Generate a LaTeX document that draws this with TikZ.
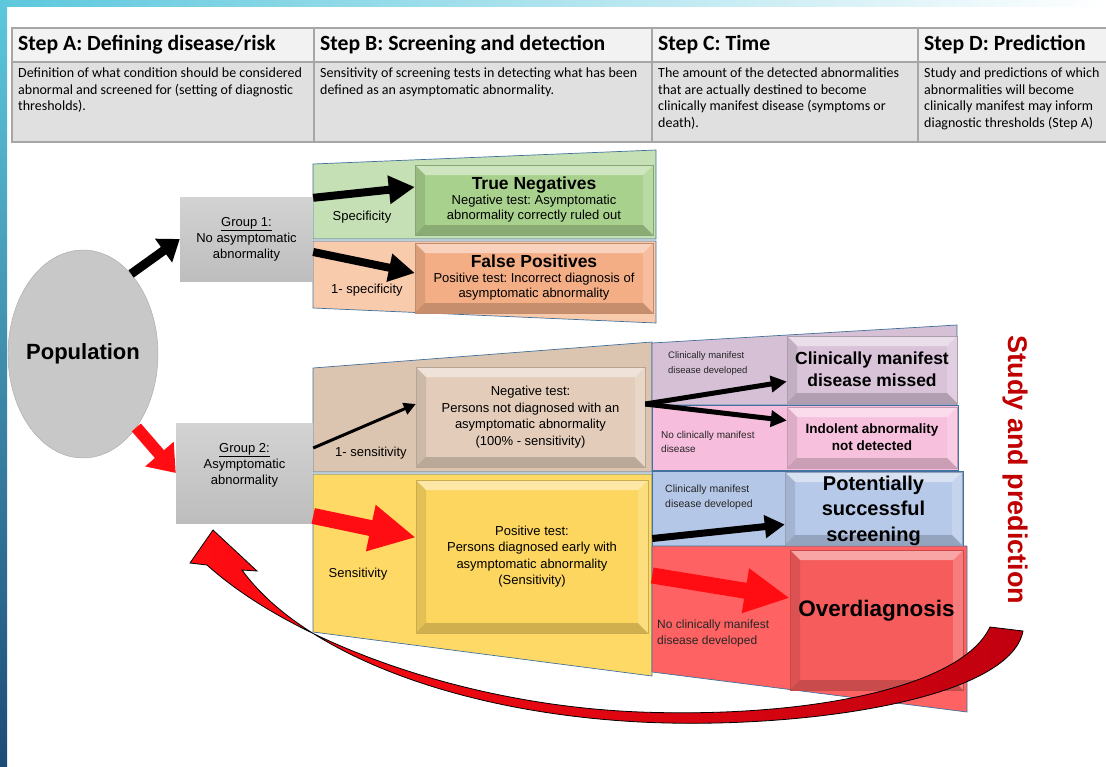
\documentclass[tikz,border=0pt]{standalone}
\usepackage{fontspec}
\setmainfont{Liberation Sans}
\newfontfamily\calib{Carlito}
\usetikzlibrary{shapes.geometric,arrows.meta}
\frenchspacing

\newcommand\fsz[2]{\fontsize{#1}{#2}\selectfont}

\definecolor{hdrfill}{HTML}{F2F2F2}
\definecolor{bodyfill}{HTML}{E0E0E0}
\definecolor{hdrline}{HTML}{A6A6A6}
\definecolor{panelline}{HTML}{41719C}
\definecolor{tnpanel}{HTML}{C5E0B4}
\definecolor{tnbox}{HTML}{A9D18E}
\definecolor{fppanel}{HTML}{F8CBAD}
\definecolor{fpbox}{HTML}{F4AE86}
\definecolor{negpanel}{HTML}{DCC5B0}
\definecolor{negbox}{HTML}{E3CDBA}
\definecolor{pospanel}{HTML}{FFD966}
\definecolor{posbox}{HTML}{FDD660}
\definecolor{misspanel}{HTML}{D6C0D6}
\definecolor{missbox}{HTML}{D9C3D9}
\definecolor{indopanel}{HTML}{F7BDDC}
\definecolor{indobox}{HTML}{F7C1DE}
\definecolor{succpanel}{HTML}{B4C7E7}
\definecolor{succbox}{HTML}{B7C9E8}
\definecolor{overpanel}{HTML}{FF6262}
\definecolor{overbox}{HTML}{F65C5C}
\definecolor{arrred}{HTML}{FF0D12}
\definecolor{arrdark}{HTML}{C0000F}
\definecolor{studyred}{HTML}{C00000}
\definecolor{grptop}{HTML}{D3D3D3}
\definecolor{grpbot}{HTML}{BDBDBD}
\definecolor{popgrey}{HTML}{C8C8C8}
\definecolor{bandtop}{HTML}{5DC8DD}
\definecolor{bandbot}{HTML}{1D4B78}

\tikzset{
  bev/.style={fill=#1, draw=#1!80!black, line width=.4pt, inner sep=0pt, align=center,
    path picture={
      \path (path picture bounding box.north west) coordinate (bnw)
            (path picture bounding box.north east) coordinate (bne)
            (path picture bounding box.south west) coordinate (bsw)
            (path picture bounding box.south east) coordinate (bse);
      \fill[white,opacity=.45] (bnw) -- (bne) -- ([shift={(-10,10)}]bne) -- ([shift={(10,10)}]bnw) -- cycle;
      \fill[black,opacity=.10] (bnw) -- ([shift={(10,10)}]bnw) -- ([shift={(10,-10)}]bsw) -- (bsw) -- cycle;
      \fill[black,opacity=.18] (bsw) -- ([shift={(10,-10)}]bsw) -- ([shift={(-10,-10)}]bse) -- (bse) -- cycle;
      \fill[white,opacity=.20] (bne) -- (bse) -- ([shift={(-10,-10)}]bse) -- ([shift={(-10,10)}]bne) -- cycle;
    }},
  grptxt/.style={inner sep=0pt, align=center, font=\fsz{13}{16}},
  grp/.style={grptxt, top color=grptop, bottom color=grpbot},
  panel/.style={draw=panelline, line width=.7pt},
  lbl/.style={inner sep=0pt, font=\fsz{13}{15}},
  tiny/.style={inner sep=0pt, align=left, anchor=west, text=black!85},
  hcell/.style={fill=hdrfill, draw=hdrline, line width=1.2pt},
  bcell/.style={fill=bodyfill, draw=hdrline, line width=1.2pt},
  htitle/.style={inner sep=0pt, anchor=west, font=\calib\bfseries\fsz{21.7}{24}},
  htxt/.style={inner sep=0pt, anchor=north west, align=left, font=\calib\fsz{14}{16.5}},
  bigb/.style={line width=8pt, -{Triangle[length=26pt,width=27pt]}},
  midb/.style={line width=5pt, -{Triangle[length=16pt,width=16pt]}},
  thinb/.style={line width=3pt, -{Triangle[length=12pt,width=12pt]}},
  bigr/.style={arrred, line width=16pt, -{Triangle[length=46pt,width=44pt]}},
}

\begin{document}
\begin{tikzpicture}[x=1pt,y=-1pt]
\useasboundingbox (0,0) rectangle (1106,766);
\shade[left color=bandtop,right color=white] (0,0) rectangle (1106,6);
\shade[top color=bandtop,bottom color=bandbot] (0,0) rectangle (7,766);

\foreach \xa/\xb in {12/314,314/652,652/918,918/1112}{
  \draw[hcell] (\xa,28) rectangle (\xb,62);
  \draw[bcell] (\xa,62) rectangle (\xb,142);
}
\node[htitle] (ha) at (18,45) {Step A: Defining disease/risk};
\node[htitle] (hb) at (320,45) {Step B: Screening and detection};
\node[htitle] (hc) at (658,45) {Step C: Time};
\node[htitle] (hd) at (924,45) {Step D: Prediction};
\node[htxt] (ta) at (18,68) {Definition of what condition should be considered\\abnormal and screened for (setting of diagnostic\\thresholds).};
\node[htxt] (tb) at (320,68) {Sensitivity of screening tests in detecting what has been\\defined as an asymptomatic abnormality.};
\node[htxt] (tc) at (658,68) {The amount of the detected abnormalities\\that are actually destined to become\\clinically manifest disease (symptoms or\\death).};
\node[htxt] (td) at (924,68) {Study and predictions of which\\abnormalities will become\\clinically manifest may inform\\diagnostic thresholds (Step A)};

\filldraw[panel,fill=tnpanel] (313,164) -- (656,150) -- (656,239) -- (313,239) -- cycle;
\filldraw[panel,fill=fppanel] (313,241) -- (656,241) -- (656,323) -- (313,308) -- cycle;
\filldraw[panel,fill=negpanel] (313,368) -- (652,342) -- (652,472) -- (313,472) -- cycle;
\filldraw[panel,fill=pospanel] (313,474) -- (652,474) -- (652,676) -- (313,632) -- cycle;
\filldraw[panel,fill=misspanel] (652,343) -- (957,325) -- (957,405) -- (652,405) -- cycle;
\filldraw[panel,fill=indopanel] (652,405) -- (958,405) -- (958,470) -- (652,470) -- cycle;
\filldraw[panel,fill=succpanel] (652,471) -- (963,471) -- (963,546) -- (652,546) -- cycle;
\filldraw[panel,fill=overpanel] (652,546) -- (967,546) -- (967,712) -- (652,672) -- cycle;

\node[ellipse, draw=black!35, inner sep=0pt, fill=popgrey, minimum width=150pt, minimum height=208pt,
  label={[font=\bfseries\fsz{22}{26}]center:Population}] (pop) at (83,354) {};
\node[grp, minimum width=133pt, minimum height=84pt] (g1) at (246.5,239)
  {\underline{Group 1:}\\No asymptomatic\\abnormality};
\node[grp, minimum width=137pt, minimum height=100pt,
  label={[grptxt, yshift=8pt]center:\underline{Group 2:}\\Asymptomatic\\abnormality}] (g2) at (244.5,473) {};

\node[bev=tnbox, minimum width=238pt, minimum height=70pt, font=\fsz{13}{15}] (tn) at (534,200)
  {{\bfseries\fsz{17.5}{20}True Negatives}\\Negative test: Asymptomatic\\abnormality correctly ruled out};
\node[bev=fpbox, minimum width=238pt, minimum height=70pt, font=\fsz{13}{15}] (fp) at (534,278)
  {{\bfseries\fsz{17.5}{20}False Positives}\\Positive test: Incorrect diagnosis of\\asymptomatic abnormality};
\node[bev=negbox, minimum width=229pt, minimum height=100pt, font=\fsz{13}{16.5}] (neg) at (530.5,417)
  {Negative test:\\Persons not diagnosed with an\\asymptomatic abnormality\\(100\% - sensitivity)};
\node[bev=posbox, minimum width=232pt, minimum height=153pt, font=\fsz{13}{16.5}] (pos) at (532,556.5)
  {Positive test:\\Persons diagnosed early with\\asymptomatic abnormality\\(Sensitivity)};
\node[bev=missbox, minimum width=170pt, minimum height=67pt, font=\bfseries\fsz{17.5}{22}] (miss) at (872,369.5)
  {Clinically manifest\\disease missed};
\node[bev=indobox, minimum width=170pt, minimum height=61pt, font=\bfseries\fsz{13.5}{17}] (indo) at (872,437.5)
  {Indolent abnormality\\not detected};
\node[bev=succbox, minimum width=177pt, minimum height=73pt,
  label={[align=center, font=\bfseries\fsz{20}{25.5}, yshift=-2pt]center:Potentially\\successful\\screening}] (succ) at (873.5,508.5) {};
\node[bev=overbox, minimum width=173pt, minimum height=140pt,
  label={[font=\bfseries\fsz{22.5}{26}, yshift=9pt]center:Overdiagnosis}] (over) at (876.5,620) {};

\node[lbl] (lspec) at (362,217) {Specificity};
\node[lbl] (l1spec) at (367,290) {1- specificity};
\node[lbl] (l1sens) at (371,453) {1- sensitivity};
\node[lbl] (lsens) at (358,574) {Sensitivity};
\node[tiny, font=\fsz{9.5}{15}] (lcm1) at (668,363.5) {Clinically manifest\\disease developed};
\node[tiny, font=\fsz{10}{14}] (lnc1) at (661,442) {No clinically manifest\\disease};
\node[tiny, font=\fsz{10.5}{15}] (lcm2) at (665,497.5) {Clinically manifest\\disease developed};
\node[tiny, font=\fsz{12}{16}] (lnc2) at (657,633.5) {No clinically manifest\\disease developed};

\node[rotate=-90, text=studyred, font=\bfseries\fsz{27}{30}] (study) at (1015,470) {Study and prediction};

\path (pop.59) edge[line width=9pt, -{Triangle[length=20pt,width=28pt]}] (g1.west)
      (pop.-54) edge[arrred, line width=12pt, -{Triangle[length=25pt,width=36pt]}] (g2.west)
      ([yshift=-1pt]g1.north east) edge[bigb] ([yshift=13pt]tn.west)
      ([yshift=-13pt]g1.east) edge[bigb] ([yshift=5pt]fp.west)
      ([yshift=25pt]g2.east) edge[thinb] ([yshift=13pt]neg.west)
      ([yshift=-43pt]g2.east) edge[bigr] ([yshift=19pt]pos.west)
      ([yshift=13pt]neg.east) edge[midb] ([yshift=-12pt]miss.west)
      ([yshift=13pt]neg.east) edge[midb] ([yshift=17pt]indo.west)
      ([xshift=4pt,yshift=18pt]pos.east) edge[line width=7pt, -{Triangle[length=20pt,width=22pt]}] ([yshift=-16pt]succ.west)
      ([xshift=4pt,yshift=-19pt]pos.east) edge[arrred, line width=16pt, -{Triangle[length=45pt,width=42pt]}] ([yshift=22pt]over.west);

\path[draw=black, line width=.8pt, left color=arrred, middle color=arrred, right color=arrdark]
  (990,627) .. controls (960,690) and (800,718) .. (640,712)
  .. controls (460,705) and (290,640) .. (207,565)
  -- (190,563) -- (213,530) -- (257,571) -- (242,570)
  .. controls (300,650) and (450,712) .. (640,722)
  .. controls (800,730) and (1010,700) .. (1023,631) -- cycle;
\end{tikzpicture}
\end{document}
